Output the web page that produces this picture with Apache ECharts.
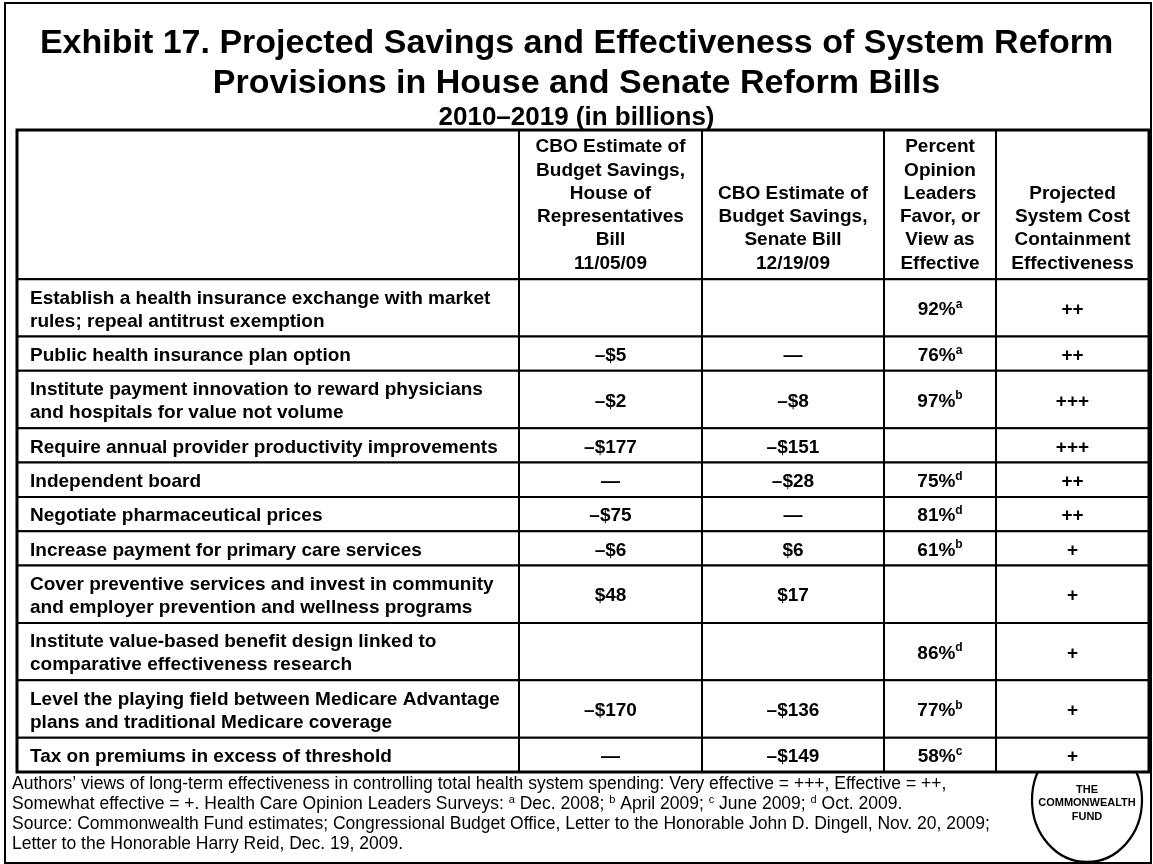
<!DOCTYPE html>
<html>
<head>
<meta charset="utf-8">
<script src="https://cdn.jsdelivr.net/npm/echarts@6/dist/echarts.min.js"></script>
<style>
  html, body { margin: 0; padding: 0; background: #fff; }
  #chart { width: 1153px; height: 864px; }
</style>
</head>
<body>
<div id="chart"></div>
<script>
// table content
const columnHeaders = [
    '',
    'CBO Estimate of\nBudget Savings,\nHouse of\nRepresentatives\nBill\n11/05/09',
    'CBO Estimate of\nBudget Savings,\nSenate Bill\n12/19/09',
    'Percent\nOpinion\nLeaders\nFavor, or\nView as\nEffective',
    'Projected\nSystem Cost\nContainment\nEffectiveness',
];
const provisions = [
    'Establish a health insurance exchange with market\nrules; repeal antitrust exemption',
    'Public health insurance plan option',
    'Institute payment innovation to reward physicians\nand hospitals for value not volume',
    'Require annual provider productivity improvements',
    'Independent board',
    'Negotiate pharmaceutical prices',
    'Increase payment for primary care services',
    'Cover preventive services and invest in community\nand employer prevention and wellness programs',
    'Institute value-based benefit design linked to\ncomparative effectiveness research',
    'Level the playing field between Medicare Advantage\nplans and traditional Medicare coverage',
    'Tax on premiums in excess of threshold',
];
// null = blank cell, 0 = dash
const houseSavings = [null, -5, -2, -177, 0, -75, -6, 48, null, -170, 0];
const senateSavings = [null, 0, -8, -151, -28, 0, 6, 17, null, -136, -149];
const favorPct = [92, 76, 97, null, 75, 81, 61, null, 86, 77, 58];
const surveyNote = ['a', 'a', 'b', null, 'd', 'd', 'b', null, 'd', 'b', 'c'];
const effectiveness = [2, 2, 3, 3, 2, 2, 1, 1, 1, 1, 1];

const FONT = '"Liberation Sans", Arial, Helvetica, sans-serif';
const colWidths = [502, 183, 182, 112, 153];
const headerHeight = 149;

const rowHeights = provisions.map(p => (p.indexOf('\n') >= 0 ? 57.3 : 34.3));
const tableW = colWidths.reduce((a, b) => a + b, 0);
const tableH = headerHeight + rowHeights.reduce((a, b) => a + b, 0);

const fmtMoney = v => {
    if (v === null) return '';
    if (v === 0) return '—';
    return (v < 0 ? '–$' : '$') + Math.abs(v);
};

const cellText = (c, r) => {
    if (r < 0) return columnHeaders[c];
    if (c === 0) return provisions[r];
    if (c === 1) return fmtMoney(houseSavings[r]);
    if (c === 2) return fmtMoney(senateSavings[r]);
    if (c === 3) return favorPct[r] === null ? '' : favorPct[r] + '%{sup|' + surveyNote[r] + '}';
    return '+'.repeat(effectiveness[r]);
};

// build cell boxes in table units
const cells = [];
let y = 0;
for (let r = -1; r < provisions.length; r++) {
    const h = r < 0 ? headerHeight : rowHeights[r];
    let x = 0;
    for (let c = 0; c < colWidths.length; c++) {
        cells.push([x, y, x + colWidths[c], y + h, c, r]);
        x += colWidths[c];
    }
    y += h;
}
// outer border
cells.push([0, 0, tableW, tableH, -1, -2]);

const myChart = echarts.init(document.getElementById('chart'));

const option = {
    backgroundColor: '#fff',
    animation: false,
    title: {
        text: 'Exhibit 17. Projected Savings and Effectiveness of System Reform\nProvisions in House and Senate Reform Bills',
        subtext: '2010–2019 (in billions)',
        left: 'center',
        top: 19,
        itemGap: 0,
        textStyle: { fontFamily: FONT, fontSize: 34, fontWeight: 'bold', color: '#000', lineHeight: 40 },
        subtextStyle: { fontFamily: FONT, fontSize: 26, fontWeight: 'bold', color: '#000', lineHeight: 28 },
    },
    grid: { left: 17, top: 130, width: 1132, height: 642 },
    xAxis: { type: 'value', min: 0, max: tableW, show: false },
    yAxis: { type: 'value', min: 0, max: tableH, inverse: true, show: false },
    graphic: [
        {
            type: 'rect',
            z: 0,
            shape: { x: 5, y: 3, width: 1146, height: 860 },
            style: { fill: 'none', stroke: '#000', lineWidth: 2 },
        },
        {
            type: 'circle',
            z: 0,
            x: 1087,
            y: 800,
            scaleX: 55 / 62,
            shape: { cx: 0, cy: 0, r: 62 },
            style: { fill: '#fff', stroke: '#000', lineWidth: 2.5 },
        },
        {
            type: 'text',
            z: 0,
            x: 1087,
            y: 803,
            style: {
                text: 'THE\nCOMMONWEALTH\nFUND',
                font: 'bold 11px ' + FONT,
                fill: '#000',
                align: 'center',
                verticalAlign: 'middle',
                lineHeight: 13.5,
            },
        },
        {
            type: 'text',
            left: 12,
            top: 774,
            style: {
                text: 'Authors’ views of long-term effectiveness in controlling total health system spending: Very effective = +++, Effective = ++,\n' +
                    'Somewhat effective = +. Health Care Opinion Leaders Surveys: {s|a} Dec. 2008; {s|b} April 2009; {s|c} June 2009; {s|d} Oct. 2009.\n' +
                    'Source: Commonwealth Fund estimates; Congressional Budget Office, Letter to the Honorable John D. Dingell, Nov. 20, 2009;\n' +
                    'Letter to the Honorable Harry Reid, Dec. 19, 2009.',
                font: '17.5px ' + FONT,
                fill: '#000',
                lineHeight: 20,
                rich: {
                    s: { font: '11px ' + FONT, fill: '#000', verticalAlign: 'top', lineHeight: 13 },
                },
            },
        },
    ],
    series: [
        {
            type: 'custom',
            coordinateSystem: 'cartesian2d',
            z: 5,
            data: cells,
            encode: { x: [0, 2], y: [1, 3] },
            renderItem: (params, api) => {
                const c = api.value(4);
                const r = api.value(5);
                const p0 = api.coord([api.value(0), api.value(1)]);
                const p1 = api.coord([api.value(2), api.value(3)]);
                const shape = { x: p0[0], y: p0[1], width: p1[0] - p0[0], height: p1[1] - p0[1] };
                if (c < 0) {
                    return {
                        type: 'rect',
                        shape: shape,
                        style: { fill: 'none', stroke: '#000', lineWidth: 3 },
                    };
                }
                const isHeader = r < 0;
                const left = c === 0;
                return {
                    type: 'group',
                    children: [
                        {
                            type: 'rect',
                            shape: shape,
                            style: { fill: '#fff', stroke: '#000', lineWidth: 2 },
                        },
                        {
                            type: 'text',
                            x: left ? p0[0] + 13 : (p0[0] + p1[0]) / 2,
                            y: isHeader ? p1[1] - 4 : (p0[1] + p1[1]) / 2 + 2,
                            style: {
                                text: cellText(c, r),
                                font: 'bold 19px ' + FONT,
                                fill: '#000',
                                align: left ? 'left' : 'center',
                                verticalAlign: isHeader ? 'bottom' : 'middle',
                                lineHeight: isHeader ? 23.3 : 23,
                                rich: {
                                    sup: { font: 'bold 12px ' + FONT, fill: '#000', verticalAlign: 'top', lineHeight: 14 },
                                },
                            },
                        },
                    ],
                };
            },
        },
    ],
};

myChart.setOption(option);
window.addEventListener('resize', () => {
    myChart.resize();
});
</script>
</body>
</html>
